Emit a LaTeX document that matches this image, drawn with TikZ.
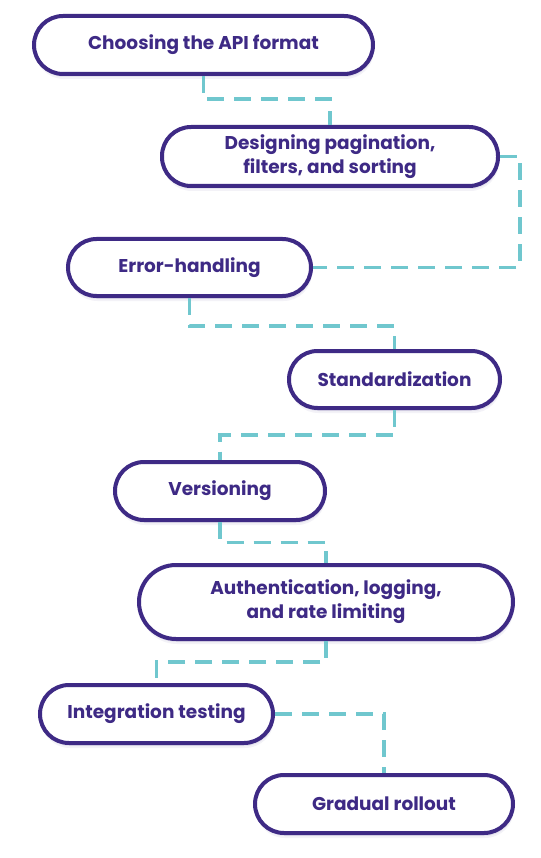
\documentclass[tikz,border=0pt]{standalone}
\usepackage{fontspec}
\setmainfont{Poppins}
\usetikzlibrary{calc,shadows}
\definecolor{purp}{HTML}{3E2A85}
\definecolor{tealc}{HTML}{70C7CE}
\begin{document}
\begin{tikzpicture}[x=1pt,y=-1pt,
  box/.style={draw=purp, line width=4pt, fill=white, text=purp,
    font=\fontsize{18.5}{24}\selectfont\bfseries, align=center, inner sep=0pt,
    minimum height=58pt, rounded corners=29pt,
    drop shadow={shadow xshift=1pt, shadow yshift=-5pt, opacity=0.06, fill=purp},
    drop shadow={shadow xshift=1pt, shadow yshift=-3pt, opacity=0.08, fill=purp}},
  conn/.style={draw=tealc, line width=3.5pt, dash pattern=on 17pt off 10pt}]
\useasboundingbox[fill=white] (0,0) rectangle (540,858);
\node[box, minimum width=339pt] (b1) at (203.5,45) {Choosing the API format};
\node[box, minimum width=336pt, minimum height=59pt] (b2) at (330,156.5) {Designing pagination,\\filters, and sorting};
\node[box, minimum width=243pt, minimum height=57pt, rounded corners=28.5pt] (b3) at (189.5,267.5) {Error-handling};
\node[box, minimum width=211pt, minimum height=57pt, rounded corners=28.5pt] (b4) at (394.5,379.5) {Standardization};
\node[box, minimum width=210pt] (b5) at (220,491) {Versioning};
\node[box, minimum width=374pt, minimum height=74pt, rounded corners=37pt] (b6) at (326,602) {Authentication, logging,\\and rate limiting};
\node[box, minimum width=233pt] (b7) at (156.5,714) {Integration testing};
\node[box, minimum width=258pt] (b8) at (384,804) {Gradual rollout};
\draw[conn] (b1.south) |- ($(b1.south)!0.47!(b2.north)$) -| (b2.north);
\draw[conn] (b2.east) -- ++(20,0) |- (b3.east);
\draw[conn] (b3.south) |- ($(b3.south)!0.55!(b4.north)$) -| (b4.north);
\draw[conn] (b4.south) |- ($(b4.south)!0.5!(b5.north)$) -| (b5.north);
\draw[conn] (b5.south) |- ($(b5.south)!0.5!(b6.north)$) -| (b6.north);
\draw[conn] (b6.south) |- ($(b6.south)!0.5!(b7.north)$) -| (b7.north);
\draw[conn] (b7.east) -| (b8.north);
\end{tikzpicture}
\end{document}
